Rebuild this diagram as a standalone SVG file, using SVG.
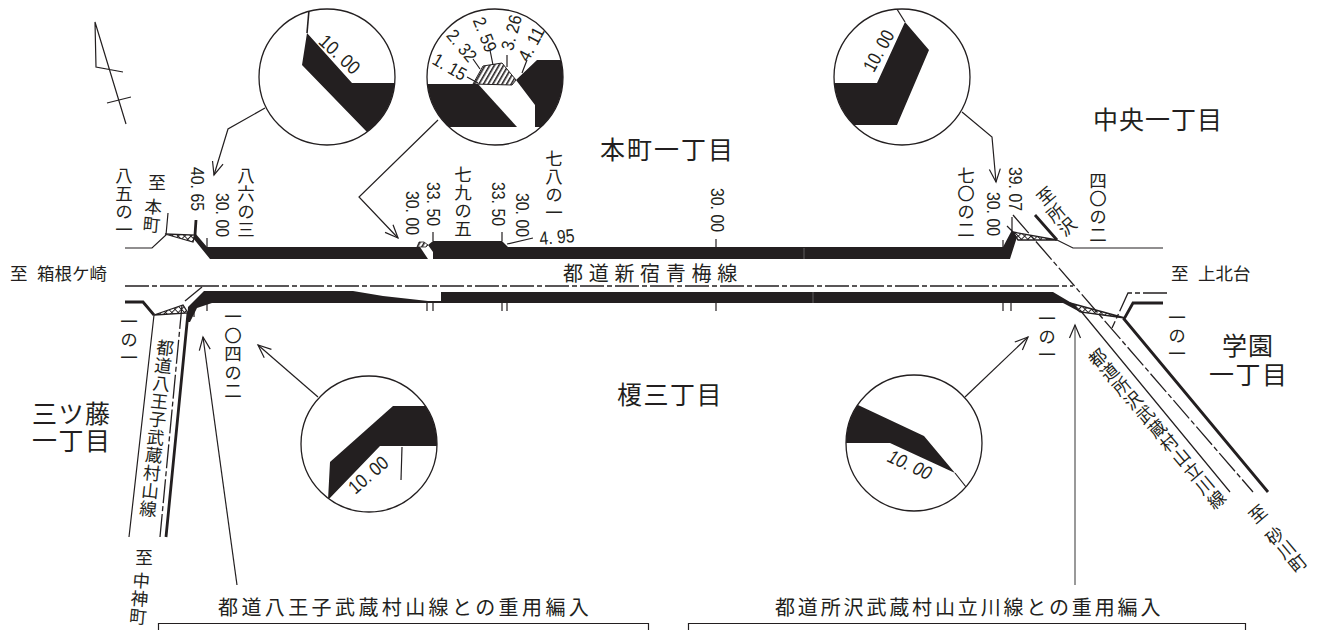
<svg xmlns="http://www.w3.org/2000/svg" width="1326" height="630" viewBox="0 0 1326 630">
<style>
text{font-family:"Noto Sans CJK JP","Liberation Sans",sans-serif;fill:#231f20}
.v{writing-mode:vertical-rl;font-size:17.500px;letter-spacing:.5px}
.n{font-family:"Liberation Sans",sans-serif;font-size:19px;dominant-baseline:central}
.m{font-size:18px}
.h{font-size:25px;letter-spacing:1.5px}
.t{fill:none;stroke:#231f20;stroke-width:1.2}
.k{fill:none;stroke:#231f20;stroke-width:2.8}
.d{fill:none;stroke:#231f20;stroke-width:1.3;stroke-dasharray:24 3 5 3}
.b{fill:#231f20;stroke:none}
.c{fill:#fff;stroke:#231f20;stroke-width:1.3}
.a{fill:none;stroke:#231f20;stroke-width:1.2;marker-end:url(#ah)}
.x{fill:url(#xh);stroke:#231f20;stroke-width:1.3}
</style>
<defs>
<marker id="ah" markerUnits="userSpaceOnUse" markerWidth="16" markerHeight="16" refX="14" refY="8" orient="auto"><path d="M1 2.500L14 8L1 13.500" fill="none" stroke="#231f20" stroke-width="1.2"/></marker>
<pattern id="hs" width="4" height="4" patternUnits="userSpaceOnUse" patternTransform="rotate(30)"><rect width="1.6" height="4" fill="#231f20"/></pattern>
<pattern id="xh" width="4.500" height="4.500" patternUnits="userSpaceOnUse" patternTransform="rotate(45)"><path d="M0 0H4.500M0 0V4.500" stroke="#231f20" stroke-width="2" fill="none"/></pattern>
<clipPath id="c1"><circle cx="327" cy="77" r="68"/></clipPath>
<clipPath id="c2"><circle cx="495" cy="77" r="68"/></clipPath>
<clipPath id="c3"><circle cx="902" cy="77" r="68"/></clipPath>
<clipPath id="c4"><circle cx="369" cy="444" r="68"/></clipPath>
<clipPath id="c5"><circle cx="914" cy="443" r="68"/></clipPath>
</defs>

<g id="north"><path class="t" d="M126 124L95 22L96 67L123 72M107 103L131 97"/></g>

<g id="connectors">
<path class="a" d="M265 108L228 129L214 175"/>
<path class="a" d="M438 120L359 197L398 238"/>
<path class="a" d="M962 112L992 137L996 182"/>
<path class="a" d="M318 397L258 345"/>
<path class="a" d="M965 397L1028 337"/>
<path class="a" d="M237 585L203 337"/>
<path class="a" d="M1075 585L1075 325" style="stroke:#555"/>
</g>

<g id="road">
<path class="b" d="M193 238L195 233L207 247H420L428 259H210Z"/>
<path class="b" d="M428 245L433 241H502L508 247H1003L1012 230L1017 237L1010 259H433V252Z"/>
<path class="b" d="M187 322L188 307L204 291H353L383 296L428 301H441V292H1053L1075 305L1080 312L1065 304L1063 303H212L197 308L190 322Z"/>
<path class="d" d="M125 286H1073"/>
<path class="d" d="M1013 215L1253 492"/>
<path class="d" d="M185 301L202 287"/>
<path class="d" d="M182 305L160 537"/>
<path class="d" d="M1167 293H1128L1112 328"/>
<path class="t" d="M125 248H152L166 235L168 213M1057 240L1073 248H1163M154 315L129 537M1080 310L1230 492"/>
<path class="k" d="M125 302H143L154 315M196 220L195 235M188 313L166 537M1035 215L1057 240M1163 303H1133L1124 319L1268 492"/>
<path class="x" d="M165 234L195 235L193 242Z"/>
<path class="x" d="M154 315L183 305L188 313Z"/>
<path class="x" d="M1013 232L1057 240L1018 240Z"/>
<path class="x" d="M1070 303L1125 318L1080 312Z"/>
<path d="M417 247L419 242H424L428 245L426 247Z" fill="url(#hs)" stroke="#231f20" stroke-width=".8"/>
<path class="t" d="M207 238V247M433 232V241M502 232V241M716 239V247M1003 240V248M1012 217V232M507 244L533 238M1007 226L1013 232"/>
<path class="t" d="M194 307V317M207 303V311M427 303V311M433 303V311M502 303V311M507 303V311M716 303V311M1003 303V311M1011 303V311"/>
<path d="M804 248V259M813 292V303" stroke="#888" stroke-width=".6"/>
</g>

<g id="detail-1"><circle class="c" cx="327" cy="77" r="68"/><g clip-path="url(#c1)"><path class="b" d="M307 33L352 83H400V166L302 65Z"/><path class="t" style="stroke-width:1.6" d="M309 10L307 33"/></g><text class="n" transform="translate(322,38) rotate(43)" textLength="48" lengthAdjust="spacingAndGlyphs">10. 00</text></g>

<g id="detail-2"><circle class="c" cx="495" cy="77" r="68"/><g clip-path="url(#c2)"><path class="b" d="M420 84H478L517 127H420Z"/><path class="b" d="M516 80L537 60H570V127H535V105Z"/></g>
<path d="M473 84L483 66L502 63L516 80L512 85Z" fill="url(#hs)" stroke="#231f20" stroke-width="1"/>
<path class="t" d="M467 77L478 83M473 59L480 69M490 50L493 65M507 55V67M527 60L522 73"/>
<text class="n m" transform="translate(434,58) rotate(30)" textLength="36" lengthAdjust="spacingAndGlyphs">1. 15</text>
<text class="n m" transform="translate(450,32) rotate(50)" textLength="36" lengthAdjust="spacingAndGlyphs">2. 32</text>
<text class="n m" transform="translate(478,18) rotate(68)" textLength="36" lengthAdjust="spacingAndGlyphs">2. 59</text>
<text class="n m" transform="translate(507,50) rotate(-75)" textLength="36" lengthAdjust="spacingAndGlyphs">3. 26</text>
<text class="n m" transform="translate(523,60) rotate(-62)" textLength="36" lengthAdjust="spacingAndGlyphs">4. 11</text></g>

<g id="detail-3"><circle class="c" cx="902" cy="77" r="68"/><g clip-path="url(#c3)"><path class="b" d="M830 83H877L905 22L929 50L897 125H830Z"/><path class="t" d="M895 6L905 22"/></g><text class="n" transform="translate(868,70) rotate(-61)" textLength="44" lengthAdjust="spacingAndGlyphs">10. 00</text></g>

<g id="detail-4"><circle class="c" cx="369" cy="444" r="68"/><g clip-path="url(#c4)"><path class="b" d="M393 406H440V446H380L328 500L330 462Z"/><path class="t" d="M402 447L401 480"/></g><text class="n" transform="translate(351,490) rotate(-41)" textLength="46" lengthAdjust="spacingAndGlyphs">10. 00</text></g>

<g id="detail-5"><circle class="c" cx="914" cy="443" r="68"/><g clip-path="url(#c5)"><path class="b" d="M858 405L924 436L955 473L890 443H840V405Z"/><path class="t" d="M955 473L970 492"/></g><text class="n" font-style="italic" transform="translate(889,455) rotate(25)" textLength="46" lengthAdjust="spacingAndGlyphs">10. 00</text></g>

<g id="labels-top">
<text class="v" x="124" y="167">八五の一</text>
<text class="v" x="157" y="174">至</text>
<text class="v" transform="translate(154,198) rotate(5)">本町</text>
<text class="n" transform="translate(197,167) rotate(90)" textLength="44" lengthAdjust="spacingAndGlyphs">40. 65</text>
<text class="n" transform="translate(222,193) rotate(90)" textLength="44" lengthAdjust="spacingAndGlyphs">30. 00</text>
<text class="v" x="246" y="167">八六の三</text>
<text class="n" transform="translate(412,191) rotate(90)" textLength="44" lengthAdjust="spacingAndGlyphs">30. 00</text>
<text class="n" transform="translate(433,182) rotate(90)" textLength="44" lengthAdjust="spacingAndGlyphs">33. 50</text>
<text class="v" x="463" y="166">七九の五</text>
<text class="n" transform="translate(498,182) rotate(90)" textLength="44" lengthAdjust="spacingAndGlyphs">33. 50</text>
<text class="n" transform="translate(522,193) rotate(90)" textLength="44" lengthAdjust="spacingAndGlyphs">30. 00</text>
<text class="v" x="554" y="150">七八の一</text>
<text class="n" transform="translate(540,245) rotate(-5)" style="dominant-baseline:auto" textLength="35" lengthAdjust="spacingAndGlyphs">4. 95</text>
<text class="n" transform="translate(717,188) rotate(90)" textLength="44" lengthAdjust="spacingAndGlyphs">30. 00</text>
<text class="v" x="966" y="167">七〇の二</text>
<text class="n" transform="translate(993,192) rotate(90)" textLength="44" lengthAdjust="spacingAndGlyphs">30. 00</text>
<text class="n" transform="translate(1015,167) rotate(90)" textLength="44" lengthAdjust="spacingAndGlyphs">39. 07</text>
<text class="v" transform="translate(1040,189) rotate(-40)">至</text>
<text class="v" transform="translate(1050,206) rotate(-40)">所沢</text>
<text class="v" x="1098" y="172">四〇の二</text>
</g>

<g id="labels-area">
<text class="h" x="600" y="159" style="letter-spacing:2px">本町一丁目</text>
<text class="h" x="1093" y="129" style="letter-spacing:1px">中央一丁目</text>
<text class="h" x="617" y="404">榎三丁目</text>
<text class="h"><tspan x="32" y="423">三ツ藤</tspan><tspan x="32" y="450">一丁目</tspan></text>
<text class="h"><tspan x="1222" y="355" style="letter-spacing:1px">学園</tspan><tspan x="1209" y="384">一丁目</tspan></text>
<text x="563" y="281" style="font-size:20px;letter-spacing:5.700px">都道新宿青梅線</text>
<text x="10" y="280" style="font-size:17.500px">至</text>
<text x="37" y="280" style="font-size:17.500px">箱根ケ崎</text>
<text x="1171" y="280" style="font-size:17.500px">至</text>
<text x="1198" y="280" style="font-size:17.500px">上北台</text>
</g>

<g id="labels-bottom">
<text class="v" x="129" y="313">一の一</text>
<text class="v" x="233" y="308" style="letter-spacing:1px">一〇四の二</text>
<text class="v" x="1047" y="310">一の一</text>
<text class="v" x="1177" y="309">一の一</text>
<text class="v" transform="translate(166,339) rotate(6)">都道八王子武蔵村山線</text>
<text class="v" x="144" y="549">至</text>
<text class="v" transform="translate(142,572) rotate(5)">中神町</text>
<text class="v" transform="translate(1092,351) rotate(-40)" style="letter-spacing:1px">都道所沢武蔵村山立川線</text>
<text class="v" transform="translate(1252,507) rotate(-40)">至</text>
<text class="v" transform="translate(1269,529) rotate(-40)">砂川町</text>
</g>

<g id="box-left"><text x="218" y="615" style="font-size:20px;letter-spacing:3.400px">都道八王子武蔵村山線との重用編入</text><path class="t" d="M158.500 630V623.500H648.500V630"/></g>
<g id="box-right"><text x="775" y="615" style="font-size:20px;letter-spacing:2.850px">都道所沢武蔵村山立川線との重用編入</text><path class="t" d="M688.500 630V623.500H1245.500V630"/></g>
</svg>
